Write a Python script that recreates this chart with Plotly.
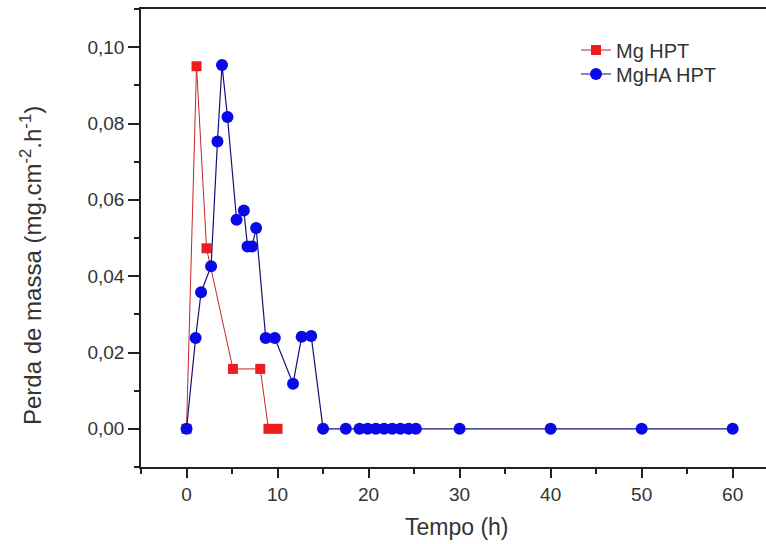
import plotly.graph_objects as go

# Mg HPT
mg_t = [0, 1.1, 2.2, 5.1, 8.1, 9.0, 10.0]
mg_v = [0, 0.095, 0.0473, 0.0157, 0.0157, 0, 0]

# MgHA HPT
mgha_t = [0, 1.0, 1.6, 2.7, 3.4, 3.9, 4.5, 5.5, 6.3, 6.7, 7.2, 7.65, 8.7, 9.7,
          11.7, 12.65, 13.7, 15.0, 17.5, 19.0, 19.9, 20.8, 21.7, 22.6, 23.5,
          24.4, 25.2, 30, 40, 50, 60]
mgha_v = [0, 0.0238, 0.0358, 0.0426, 0.0753, 0.0953, 0.0817, 0.0548, 0.0572,
          0.0478, 0.0478, 0.0526, 0.0238, 0.0238, 0.0118, 0.0241, 0.0243, 0,
          0, 0, 0, 0, 0, 0, 0, 0, 0, 0, 0, 0, 0]

x_ticks = [0, 10, 20, 30, 40, 50, 60]
y_ticks = [0, 0.02, 0.04, 0.06, 0.08, 0.10]

FONT = "Liberation Sans"
W, H = 766, 544
ML, MR, MT, MB = 141, 0, 9, 77
pw = W - ML - MR
ph = H - MT - MB


def px_x(px):
    return (px - ML) / pw


def px_y(py):
    return (H - MB - py) / ph


fig = go.Figure()
fig.add_trace(go.Scatter(
    x=mg_t, y=mg_v, name="Mg HPT", mode="lines+markers", legend="legend",
    line=dict(color="#cc2424", width=1),
    marker=dict(symbol="square", size=10, color="#ee1c1c"),
))
fig.add_trace(go.Scatter(
    x=mgha_t, y=mgha_v, name="MgHA HPT", mode="lines+markers", legend="legend2",
    line=dict(color="#12127a", width=1.2),
    marker=dict(symbol="circle", size=12, color="#0a0ae6"),
))

axis_common = dict(
    showgrid=False, zeroline=False, showline=True, linecolor="#222",
    linewidth=1.5, ticks="outside", tickcolor="#222", tickwidth=1.5,
    tickfont=dict(family=FONT, size=19, color="#333"),
)

fig.update_xaxes(
    range=[-5, 63.66], tickvals=x_ticks, ticklen=9, mirror=True,
    minor=dict(dtick=5, tick0=0, ticks="outside", ticklen=5, tickcolor="#222",
               tickwidth=1.5, showgrid=False),
    **axis_common,
)
fig.update_yaxes(
    range=[-0.01, 0.11], tickvals=y_ticks, tickformat=".2f", ticklen=11,
    mirror=False,
    minor=dict(dtick=0.01, tick0=0, ticks="outside", ticklen=5,
               tickcolor="#222", tickwidth=1.5, showgrid=False),
    **axis_common,
)

fig.add_annotation(
    text="Perda de massa (mg.cm<sup>-2</sup>.h<sup>-1</sup>)",
    xref="paper", yref="paper", x=px_x(31), y=px_y(266),
    xanchor="center", yanchor="middle", textangle=-90, showarrow=False,
    font=dict(family=FONT, size=24, color="#333"),
)
fig.add_annotation(
    text="Tempo (h)",
    xref="paper", yref="paper", x=px_x(457), y=px_y(527),
    xanchor="center", yanchor="middle", showarrow=False,
    font=dict(family=FONT, size=23, color="#333"),
)

leg_common = dict(xanchor="left", yanchor="middle",
                  bgcolor="rgba(0,0,0,0)",
                  font=dict(family=FONT, size=20, color="#333"))
fig.update_layout(
    width=W, height=H, margin=dict(l=ML, r=MR, t=MT, b=MB),
    paper_bgcolor="white", plot_bgcolor="white",
    separators=",.",
    showlegend=True,
    legend=dict(x=px_x(576), y=px_y(50), **leg_common),
    legend2=dict(x=px_x(576), y=px_y(74), **leg_common),
)

fig.write_html("out.html")
